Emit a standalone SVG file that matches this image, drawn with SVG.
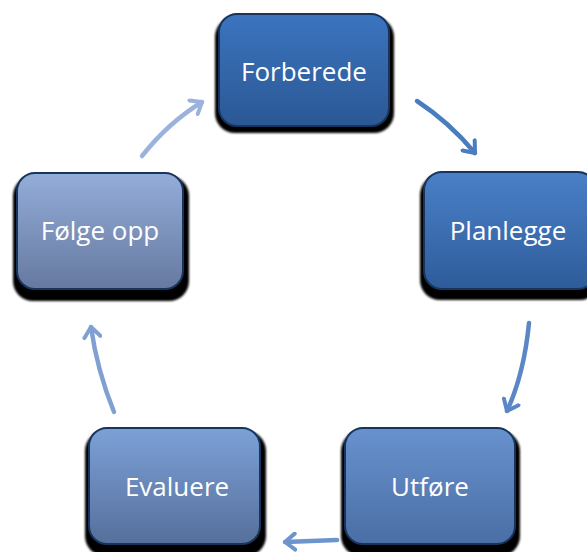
<svg xmlns="http://www.w3.org/2000/svg" width="587" height="552" viewBox="0 0 587 552">
<style>
  .lbl { font-family: "Open Sans", "Liberation Sans", sans-serif; font-size: 26px; fill: #ffffff; text-anchor: middle; }
  .box { stroke: #17345c; stroke-width: 2; }
  .shadow { fill: #000000; filter: url(#blur); }
  .conn { fill: none; stroke-width: 4.5; stroke-linecap: round; }
</style>
<defs>
  <filter id="blur" x="-10%" y="-10%" width="120%" height="120%"><feGaussianBlur stdDeviation="1"/></filter>
  <linearGradient id="g1" x1="0" y1="0" x2="0" y2="1"><stop offset="0" stop-color="#3b74bf"/><stop offset="1" stop-color="#2b5894"/></linearGradient>
  <linearGradient id="g2" x1="0" y1="0" x2="0" y2="1"><stop offset="0" stop-color="#4a80c8"/><stop offset="1" stop-color="#2e5c9a"/></linearGradient>
  <linearGradient id="g3" x1="0" y1="0" x2="0" y2="1"><stop offset="0" stop-color="#6892ce"/><stop offset="1" stop-color="#4a6ea5"/></linearGradient>
  <linearGradient id="g4" x1="0" y1="0" x2="0" y2="1"><stop offset="0" stop-color="#7ca1d7"/><stop offset="1" stop-color="#566f9b"/></linearGradient>
  <linearGradient id="g5" x1="0" y1="0" x2="0" y2="1"><stop offset="0" stop-color="#93add9"/><stop offset="1" stop-color="#66799f"/></linearGradient>
  <marker id="m1" viewBox="-12 -10 14 20" markerWidth="14" markerHeight="20" refX="0" refY="0" orient="auto" markerUnits="userSpaceOnUse"><path d="M-10,-8 L0,0 L-10,8" fill="none" stroke="#4a7cc0" stroke-width="4" stroke-linecap="round" stroke-linejoin="round"/></marker>
  <marker id="m2" viewBox="-12 -10 14 20" markerWidth="14" markerHeight="20" refX="0" refY="0" orient="auto" markerUnits="userSpaceOnUse"><path d="M-10,-8 L0,0 L-10,8" fill="none" stroke="#5a87c6" stroke-width="4" stroke-linecap="round" stroke-linejoin="round"/></marker>
  <marker id="m3" viewBox="-12 -10 14 20" markerWidth="14" markerHeight="20" refX="0" refY="0" orient="auto" markerUnits="userSpaceOnUse"><path d="M-10,-8 L0,0 L-10,8" fill="none" stroke="#6c94cd" stroke-width="4" stroke-linecap="round" stroke-linejoin="round"/></marker>
  <marker id="m4" viewBox="-12 -10 14 20" markerWidth="14" markerHeight="20" refX="0" refY="0" orient="auto" markerUnits="userSpaceOnUse"><path d="M-10,-8 L0,0 L-10,8" fill="none" stroke="#80a0d2" stroke-width="4" stroke-linecap="round" stroke-linejoin="round"/></marker>
  <marker id="m5" viewBox="-12 -10 14 20" markerWidth="14" markerHeight="20" refX="0" refY="0" orient="auto" markerUnits="userSpaceOnUse"><path d="M-10,-8 L0,0 L-10,8" fill="none" stroke="#9bb3dc" stroke-width="4" stroke-linecap="round" stroke-linejoin="round"/></marker>
</defs>
<rect width="587" height="552" fill="#ffffff"/>
<g id="connectors">
  <path class="conn" stroke="#4a7cc0" marker-end="url(#m1)" d="M417,101 Q449,122 475,153"/>
  <path class="conn" stroke="#5a87c6" marker-end="url(#m2)" d="M529,323 Q524,374 507,411"/>
  <path class="conn" stroke="#6c94cd" marker-end="url(#m3)" d="M337,540 L285,542"/>
  <path class="conn" stroke="#80a0d2" marker-end="url(#m4)" d="M114,412 Q97,370 91,327"/>
  <path class="conn" stroke="#9bb3dc" marker-end="url(#m5)" d="M142,156 Q168,123 202,102"/>
</g>
<g id="node-forberede">
  <rect class="shadow" x="215" y="17" width="179" height="116" rx="20"/>
  <rect class="box" x="219" y="14" width="170" height="112" rx="18" fill="url(#g1)"/>
  <text class="lbl" x="304" y="81">Forberede</text>
</g>
<g id="node-planlegge">
  <rect class="shadow" x="420" y="175" width="180" height="125" rx="20"/>
  <rect class="box" x="424" y="172" width="172" height="117" rx="18" fill="url(#g2)"/>
  <text class="lbl" x="508" y="240">Planlegge</text>
</g>
<g id="node-utfore">
  <rect class="shadow" x="341" y="431" width="179" height="125" rx="20"/>
  <rect class="box" x="345" y="428" width="170" height="116" rx="18" fill="url(#g3)"/>
  <text class="lbl" x="430" y="496">Utføre</text>
</g>
<g id="node-evaluere">
  <rect class="shadow" x="85" y="431" width="181" height="125" rx="20"/>
  <rect class="box" x="89" y="428" width="171" height="116" rx="18" fill="url(#g4)"/>
  <text class="lbl" x="177" y="496">Evaluere</text>
</g>
<g id="node-folge-opp">
  <rect class="shadow" x="13" y="176" width="176" height="125" rx="20"/>
  <rect class="box" x="17" y="173" width="166" height="116" rx="18" fill="url(#g5)"/>
  <text class="lbl" x="100" y="240">Følge opp</text>
</g>
</svg>
